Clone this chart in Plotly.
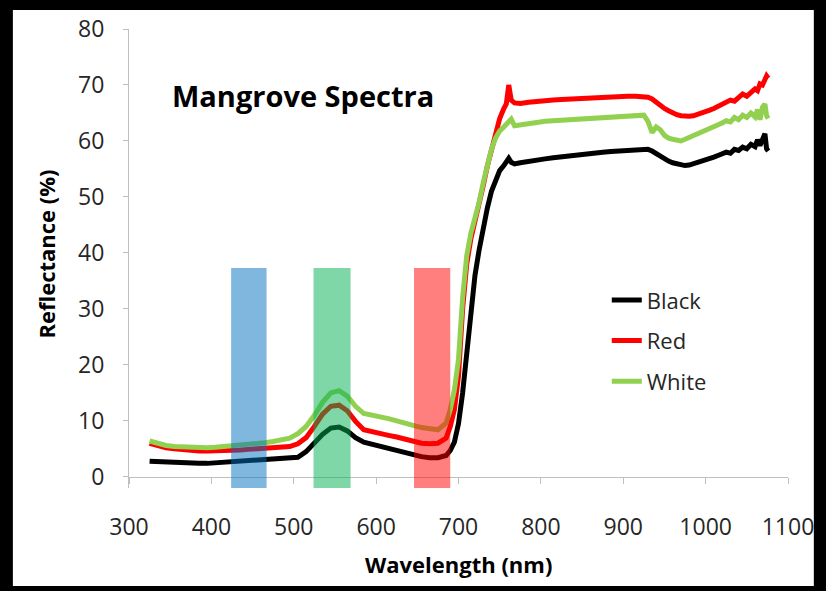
import plotly.graph_objects as go

wavelength = [325, 335, 345, 355, 365, 375, 385, 395, 405, 415, 425, 435, 445, 455, 465, 475, 485, 495,
              505, 515, 525, 535, 545, 555, 565, 575, 585, 595, 605, 615, 625, 635, 645, 655, 665, 675,
              685, 690, 695, 700, 705, 710, 715, 720, 725, 730, 735, 740, 745, 750, 755, 758, 761, 764,
              768, 775, 785, 795, 805, 815, 825, 835, 845, 855, 865, 875, 885, 895, 905, 915, 925, 930,
              935, 940, 945, 950, 955, 960, 965, 970, 975, 980, 985, 990, 995, 1000, 1005, 1010, 1015,
              1020, 1025, 1030, 1035, 1040, 1045, 1050, 1055, 1060, 1063, 1066, 1069, 1072, 1074, 1076]

black = [2.8, 2.7, 2.6, 2.6, 2.5, 2.5, 2.4, 2.4, 2.5, 2.6, 2.7, 2.8, 2.9, 3.0, 3.0, 3.1, 3.2, 3.3,
         3.5, 4.5, 6.0, 7.6, 8.7, 8.9, 8.2, 7.0, 6.2, 5.8, 5.5, 5.1, 4.6, 4.2, 3.9, 3.6, 3.4, 3.4,
         3.8, 4.7, 6.2, 9.5, 15.0, 22.0, 30.0, 36.0, 40.5, 44.5, 48.0, 51.0, 53.2, 54.7, 55.6, 56.2, 56.9, 56.2,
         55.9, 56.1, 56.4, 56.6, 56.8, 57.0, 57.2, 57.4, 57.5, 57.7, 57.8, 58.0, 58.1, 58.2, 58.4, 58.5, 58.4, 58.5,
         58.2, 57.7, 57.2, 56.8, 56.4, 56.1, 55.9, 55.7, 55.6, 55.7, 55.9, 56.1, 56.4, 56.6, 56.8, 57.1, 57.4,
         57.6, 58.0, 57.8, 58.5, 58.3, 58.9, 58.6, 59.4, 59.0, 60.2, 59.2, 60.5, 61.3, 58.6, 58.2]

red = [6.0, 5.5, 5.2, 5.0, 4.8, 4.7, 4.6, 4.6, 4.6, 4.6, 4.7, 4.8, 4.9, 5.0, 5.0, 5.1, 5.2, 5.4,
       5.9, 7.0, 9.0, 11.2, 12.6, 12.8, 11.8, 9.9, 8.4, 8.0, 7.7, 7.4, 7.1, 6.7, 6.3, 6.0, 5.9, 6.0,
       6.9, 9.0, 12.0, 18.0, 30.0, 38.0, 42.5, 45.5, 48.5, 52.0, 55.5, 58.5, 61.5, 64.0, 65.8, 66.6, 70.0, 67.3,
       66.8, 66.7, 66.9, 67.1, 67.2, 67.3, 67.4, 67.5, 67.6, 67.7, 67.8, 67.8, 67.9, 68.0, 68.0, 68.0, 67.9, 67.8,
       67.5, 66.9, 66.3, 65.8, 65.4, 65.0, 64.7, 64.5, 64.4, 64.4, 64.5, 64.7, 64.9, 65.2, 65.5, 65.8, 66.2,
       66.6, 66.9, 67.3, 67.1, 67.8, 68.4, 68.0, 68.8, 69.3, 69.0, 70.2, 70.0, 71.0, 71.6, 71.2]

white = [6.4, 5.9, 5.6, 5.4, 5.3, 5.2, 5.2, 5.2, 5.3, 5.4, 5.5, 5.7, 5.8, 6.0, 6.1, 6.3, 6.5, 6.9,
         7.7, 9.0, 11.0, 13.3, 15.0, 15.4, 14.4, 12.6, 11.3, 11.0, 10.9, 10.4, 10.0, 9.7, 9.2, 8.8, 8.5, 8.4,
         9.6, 12.0, 15.5, 21.0, 32.0, 39.5, 43.5, 46.0, 49.0, 52.5, 56.0, 58.5, 60.5, 61.8, 62.5, 62.9, 63.2, 63.9,
         62.7, 62.9, 63.1, 63.3, 63.5, 63.6, 63.8, 63.9, 64.0, 64.1, 64.2, 64.3, 64.4, 64.5, 64.6, 64.7, 64.6, 63.5,
         61.5, 62.5, 62.0, 61.0, 60.5, 60.3, 60.1, 60.0, 60.3, 60.6, 61.0, 61.4, 61.7, 62.0, 62.2, 62.6, 62.9,
         63.2, 63.6, 63.4, 64.2, 63.8, 64.6, 64.2, 65.0, 64.3, 65.6, 63.8, 66.0, 66.6, 64.5, 64.0]

series_names = ["Black", "Red", "White"]
series_values = [black, red, white]
series_colors = ["#000000", "#FF0000", "#92D050"]

band_start = [424, 524, 646]
band_end = [467, 569, 690]
band_top = 37.3
band_colors = ["rgba(0,112,192,0.5)", "rgba(0,176,80,0.5)", "rgba(255,0,0,0.5)"]

y_ticks = [0, 10, 20, 30, 40, 50, 60, 70, 80]
x_ticks = [300, 400, 500, 600, 700, 800, 900, 1000, 1100]

FONT = "Open Sans"
fig = go.Figure()
for name, vals, col in zip(series_names, series_values, series_colors):
    fig.add_trace(go.Scatter(x=wavelength, y=vals, mode="lines", name=name, legendgroup=name,
                             line=dict(color=col, width=5)))

y_min = -2
shapes = [dict(type="rect", xref="paper", yref="paper", x0=-0.1762, x1=1.0392, y0=-0.2135, y1=1.0414,
               fillcolor="white", line=dict(width=0), layer="below")]
for s, e, c in zip(band_start, band_end, band_colors):
    shapes.append(dict(type="rect", xref="x", yref="y", x0=s, x1=e, y0=y_min, y1=band_top,
                       fillcolor=c, line=dict(width=0), layer="above"))

fig.update_layout(
    width=826, height=591,
    margin=dict(l=129, r=33, t=29, b=103),
    paper_bgcolor="black", plot_bgcolor="white",
    font=dict(family=FONT, color="#262626"),
    shapes=shapes,
    showlegend=True,
    legend=dict(x=0.725, y=0.455, xanchor="left", yanchor="top", bgcolor="rgba(0,0,0,0)",
                font=dict(size=22, family=FONT, color="#262626"), tracegroupgap=9, itemwidth=30),
    xaxis=dict(range=[300, 1100], tickvals=x_ticks, showgrid=False, zeroline=False,
               showline=True, linecolor="#BFBFBF", linewidth=1, ticks="outside", ticklen=6,
               tickcolor="#BFBFBF", anchor="free", position=(0 - y_min) / (80 - y_min),
               tickfont=dict(size=23, family=FONT, color="#262626"), ticklabelstandoff=24),
    yaxis=dict(range=[y_min, 80], tickvals=y_ticks, showgrid=False, zeroline=False,
               showline=True, linecolor="#BFBFBF", linewidth=1, ticks="outside", ticklen=5,
               tickcolor="#BFBFBF", tickfont=dict(size=23, family=FONT, color="#262626"),
               ticklabelstandoff=14),
    annotations=[
        dict(text="<b>Mangrove Spectra</b>", xref="paper", yref="paper", x=0.0617, y=0.856,
             xanchor="left", yanchor="middle", showarrow=False,
             font=dict(size=29, family=FONT, color="#000000")),
        dict(text="<b>Wavelength (nm)</b>", xref="paper", yref="paper", x=0.5, y=-0.166,
             xanchor="center", yanchor="middle", showarrow=False,
             font=dict(size=22, family=FONT, color="#000000")),
        dict(text="<b>Reflectance (%)</b>", xref="paper", yref="paper", x=-0.1265, y=0.510,
             xanchor="center", yanchor="middle", textangle=-90, showarrow=False,
             font=dict(size=22, family=FONT, color="#000000")),
    ],
)

fig.write_html("out.html")
